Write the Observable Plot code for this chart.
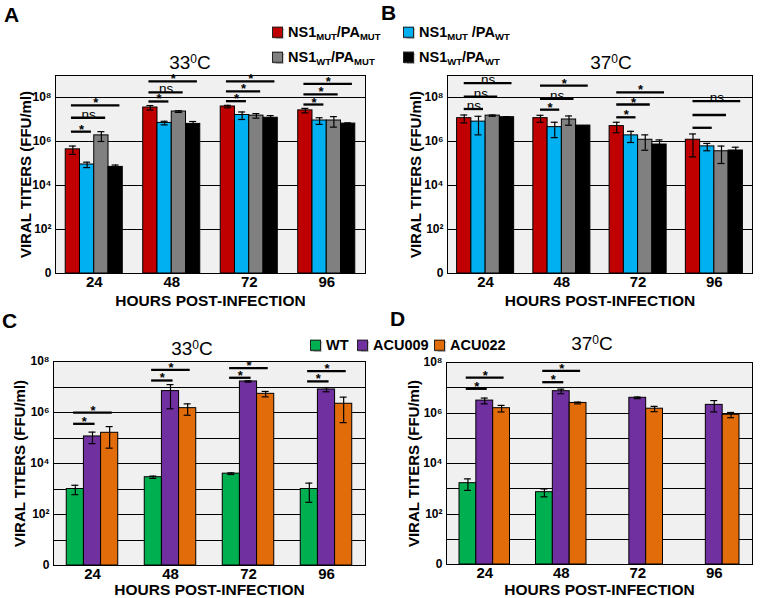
<!DOCTYPE html>
<html><head><meta charset="utf-8">
<script src="https://cdn.jsdelivr.net/npm/d3@7"></script>
<script src="https://cdn.jsdelivr.net/npm/@observablehq/plot@0.6"></script>
<style>
body{margin:0;background:#fff;}
#root{position:relative;width:760px;height:598px;overflow:hidden;font-family:"Liberation Sans",Arial,sans-serif;color:#000;}
.abs{position:absolute;white-space:nowrap;}
.letter{font-weight:bold;font-size:21px;line-height:1}
.title{font-size:19px;line-height:1;transform:translate(-50%,-50%)}
.title sup{font-size:12px;vertical-align:0.45em;line-height:0}
.leg{font-weight:bold;font-size:14.5px;line-height:1;transform:translateY(-50%);display:flex;align-items:center}
.legcd{font-size:14.5px}
.sw{display:inline-block;width:9px;height:9px;border:1px solid #222;margin-right:5px;box-shadow:1px 1px 1px rgba(0,0,0,.35)}
.leg sub{font-size:9.5px;vertical-align:-0.3em;line-height:0}
</style></head><body><div id="root"></div>
<script>
// ---------- categories ----------
const hours = [24, 48, 72, 96];
const seriesAB = ["NS1MUT/PAMUT", "NS1MUT/PAWT", "NS1WT/PAMUT", "NS1WT/PAWT"];
const colorsAB = ["#c00000", "#00b0f0", "#808080", "#000000"];
const seriesCD = ["WT", "ACU009", "ACU022"];
const colorsCD = ["#00b050", "#7030a0", "#e36c0a"];

// ---------- panel A (33 C) : mean titers and SD, by hour ----------
const aMutMut = [4.4e5, 3.5e7, 3.9e7, 2.6e7];
const aMutMutSd = [1.8e5, 8e6, 5e6, 6e6];
const aMutWt = [9e4, 7e6, 1.6e7, 9e6];
const aMutWtSd = [2.5e4, 1.3e6, 6e6, 3e6];
const aWtMut = [1.9e6, 2.3e7, 1.5e7, 9e6];
const aWtMutSd = [9e5, 2e6, 3.5e6, 4.5e6];
const aWtWt = [7e4, 6.3e6, 1.2e7, 6.5e6];
const aWtWtSd = [1.5e4, 1.8e6, 3e6, 5e5];

// ---------- panel B (37 C) ----------
const bMutMut = [1.15e7, 1.15e7, 5e6, 1.2e6];
const bMutMutSd = [4.5e6, 4e6, 2.5e6, 1e6];
const bMutWt = [8e6, 4.5e6, 1.9e6, 6e5];
const bMutWtSd = [6e6, 3e6, 1e6, 2.2e5];
const bWtMut = [1.5e7, 1e7, 1.2e6, 3.6e5];
const bWtMutSd = [1e6, 4.5e6, 8e5, 2.6e5];
const bWtWt = [1.27e7, 5.3e6, 7.3e5, 3.9e5];
const bWtWtSd = [8e5, 0, 4.5e5, 1.6e5];

// ---------- panel C (33 C) ----------
const cWT = [1e3, 2.9e3, 4e3, 1e3];
const cWTSd = [4e2, 3e2, 3e2, 7e2];
const cACU009 = [1.15e5, 6.9e6, 1.65e7, 8e6];
const cACU009Sd = [5.5e4, 5.5e6, 1e6, 1.5e6];
const cACU022 = [1.6e5, 1.48e6, 5.4e6, 2.2e6];
const cACU022Sd = [1.2e5, 7e5, 1.3e6, 1.8e6];

// ---------- panel D (37 C) ----------
const dWT = [1.66e3, 7.3e2, null, null];
const dWTSd = [8e2, 2.5e2, null, null];
const dACU009 = [3.1e6, 7.3e6, 4e6, 2.1e6];
const dACU009Sd = [8e5, 1.5e6, 3e5, 1e6];
const dACU022 = [1.55e6, 2.5e6, 1.48e6, 8.5e5];
const dACU022Sd = [4.5e5, 2e5, 3.5e5, 2e5];

// ---------- significance brackets (from first series to "to") ----------
const aBrackets = [
  {hour:24,to:1,y:2.8e6,label:"*"},{hour:24,to:2,y:1.2e7,label:"ns"},{hour:24,to:3,y:4.4e7,label:"*"},
  {hour:48,to:1,y:6.6e7,label:"*"},{hour:48,to:2,y:1.7e8,label:"ns"},{hour:48,to:3,y:5.4e8,label:"*"},
  {hour:72,to:1,y:6.8e7,label:"*"},{hour:72,to:2,y:1.9e8,label:"*"},{hour:72,to:3,y:5.4e8,label:"*"},
  {hour:96,to:1,y:4.8e7,label:"*"},{hour:96,to:2,y:1.4e8,label:"*"},{hour:96,to:3,y:4.2e8,label:"*"}
];
const bBrackets = [
  {hour:24,to:1,y:3e7,label:"ns"},{hour:24,to:2,y:1.1e8,label:"ns"},{hour:24,to:3,y:4.5e8,label:"ns"},
  {hour:48,to:1,y:2.8e7,label:"*"},{hour:48,to:2,y:8.7e7,label:"ns"},{hour:48,to:3,y:3.5e8,label:"*"},
  {hour:72,to:1,y:1.26e7,label:"*"},{hour:72,to:2,y:4.8e7,label:"*"},{hour:72,to:3,y:1.7e8,label:"*"},
  {hour:96,to:1,y:4.2e6,label:""},{hour:96,to:2,y:1.6e7,label:""},{hour:96,to:3,y:6.8e7,label:"ns"}
];
const cBrackets = [
  {hour:24,to:1,y:3.6e5,label:"*"},{hour:24,to:2,y:9.8e5,label:"*"},
  {hour:48,to:1,y:1.8e7,label:"*"},{hour:48,to:2,y:4.7e7,label:"*"},
  {hour:72,to:1,y:2.3e7,label:"*"},{hour:72,to:2,y:5.5e7,label:"*"},
  {hour:96,to:1,y:1.66e7,label:"*"},{hour:96,to:2,y:4.2e7,label:"*"}
];
const dBrackets = [
  {hour:24,to:1,y:9.1e6,label:"*"},{hour:24,to:2,y:2.5e7,label:"*"},
  {hour:48,to:1,y:1.66e7,label:"*"},{hour:48,to:2,y:4.7e7,label:"*"}
];

// ---------- axis ticks ----------
const yTicksAB = [1, 1e2, 1e4, 1e6, 1e8];
const gridAB = [1e2, 1e4, 1e6, 1e8];
const yTicksCD = [1, 1e2, 1e4, 1e6, 1e8];
const gridCD = [1e1, 1e2, 1e3, 1e4, 1e5, 1e6, 1e7];
const xLabel = "HOURS POST-INFECTION";
const yLabel = "VIRAL TITERS (FFU/ml)";

const supDigits = {"0":"⁰","1":"¹","2":"²","3":"³","4":"⁴","5":"⁵","6":"⁶","7":"⁷","8":"⁸","9":"⁹"};
const fmtY = d => d === 1 ? "0" : "10" + String(Math.round(Math.log10(d))).split("").map(c => supDigits[c]).join("");

function panel(o) {
  const n = o.series.length;
  const rows = [];
  o.series.forEach((s, k) => hours.forEach((h, i) => {
    const v = o.values[k][i];
    if (v == null) return;
    rows.push({i, k, s, v, sd: o.sds[k][i]});
  }));
  const bw = o.barW;
  const cx = d => d.i + 0.5 + (d.k - (n - 1) / 2) * bw;
  const plotW = o.width - o.marginLeft - o.marginRight;
  const cap = 3.5 / (plotW / 4);
  const withErr = rows.filter(d => d.sd);
  const br = o.brackets.map(d => {
    const i = hours.indexOf(d.hour);
    const x1 = i + 0.5 + (0 - (n - 1) / 2 + o.startOff) * bw;
    const x2 = i + 0.5 + (d.to - (n - 1) / 2 + o.endOff) * bw;
    return {...d, x1, x2, xm: (x1 + x2) / 2};
  });
  return Plot.plot({
    width: o.width, height: o.height,
    marginLeft: o.marginLeft, marginRight: o.marginRight, marginTop: o.marginTop, marginBottom: o.marginBottom,
    style: {fontFamily: "Liberation Sans, Arial, sans-serif", fontWeight: "bold", background: "transparent", overflow: "visible"},
    x: {type: "linear", domain: [0, 4], axis: null},
    y: {type: "log", domain: [1, o.yMax], axis: null},
    color: {domain: o.series, range: o.colors},
    marks: [
      Plot.frame({fill: "#f0f0f0", stroke: null}),
      Plot.gridY(o.grid, {stroke: "#000", strokeOpacity: 1, strokeWidth: 1, shapeRendering: "crispEdges"}),
      Plot.rectY(rows, {x1: d => cx(d) - bw / 2, x2: d => cx(d) + bw / 2, y1: 1, y2: "v", fill: "s", stroke: "#000", strokeWidth: 1}),
      Plot.ruleX(withErr, {x: cx, y1: d => Math.max(d.v - d.sd, 1), y2: d => d.v + d.sd, stroke: "#000", strokeWidth: 1.2}),
      Plot.ruleY(withErr, {y: d => d.v + d.sd, x1: d => cx(d) - cap, x2: d => cx(d) + cap, stroke: "#000", strokeWidth: 1.2}),
      Plot.ruleY(withErr.filter(d => d.v - d.sd > 1), {y: d => d.v - d.sd, x1: d => cx(d) - cap, x2: d => cx(d) + cap, stroke: "#000", strokeWidth: 1.2}),
      Plot.frame({stroke: "#000", strokeWidth: 1, shapeRendering: "crispEdges"}),
      Plot.ruleY(br, {y: "y", x1: "x1", x2: "x2", stroke: "#000", strokeWidth: 2.3}),
      Plot.text(br.filter(d => d.label === "ns"), {x: "xm", y: "y", text: "label", lineAnchor: "bottom", dy: 1, fontSize: 13.5, fontWeight: "normal"}),
      Plot.text(br.filter(d => d.label === "*"), {x: "xm", y: "y", text: "label", lineAnchor: "bottom", dy: 2, fontSize: 13, fontWeight: "bold"}),
      Plot.axisX({ticks: [0.5, 1.5, 2.5, 3.5], tickFormat: t => String(hours[Math.floor(t)]), tickSize: 0, tickPadding: 3, fontSize: 15, label: null}),
      Plot.axisY({ticks: o.yTicks, tickFormat: fmtY, tickSize: 0, tickPadding: 4, fontSize: 12, label: null}),
      Plot.text([xLabel], {frameAnchor: "bottom", dy: o.xlabelDy, lineAnchor: "top", fontSize: 15.5, fontWeight: "bold"}),
      Plot.text([yLabel], {frameAnchor: "left", dx: o.ylabelDx, rotate: -90, textAnchor: "middle", lineAnchor: "middle", fontSize: 15, fontWeight: "bold"})
    ]
  });
}

const root = document.getElementById("root");
function place(el, left, top) {
  el.style.position = "absolute"; el.style.left = left + "px"; el.style.top = top + "px";
  root.appendChild(el);
}

place(panel({values: [aMutMut, aMutWt, aWtMut, aWtWt], sds: [aMutMutSd, aMutWtSd, aWtMutSd, aWtWtSd],
  series: seriesAB, colors: colorsAB, brackets: aBrackets, yMax: 1e9, grid: gridAB, yTicks: yTicksAB,
  barW: 0.184, startOff: -0.1, endOff: 0.3,
  width: 380, height: 250, marginLeft: 55, marginRight: 15, marginTop: 15, marginBottom: 37, ylabelDx: -29, xlabelDy: 21}), 0, 60);
place(panel({values: [bMutMut, bMutWt, bWtMut, bWtWt], sds: [bMutMutSd, bMutWtSd, bWtMutSd, bWtWtSd],
  series: seriesAB, colors: colorsAB, brackets: bBrackets, yMax: 1e9, grid: gridAB, yTicks: yTicksAB,
  barW: 0.187, startOff: 0, endOff: 0.35,
  width: 380, height: 250, marginLeft: 67, marginRight: 8, marginTop: 15, marginBottom: 37, ylabelDx: -31, xlabelDy: 21}), 380, 60);
place(panel({values: [cWT, cACU009, cACU022], sds: [cWTSd, cACU009Sd, cACU022Sd],
  series: seriesCD, colors: colorsCD, brackets: cBrackets, yMax: 1e8, grid: gridCD, yTicks: yTicksCD,
  barW: 0.22, startOff: -0.1, endOff: 0.15,
  width: 380, height: 258, marginLeft: 53, marginRight: 15, marginTop: 21, marginBottom: 33, ylabelDx: -33, xlabelDy: 18.5}), 0, 340);
place(panel({values: [dWT, dACU009, dACU022], sds: [dWTSd, dACU009Sd, dACU022Sd],
  series: seriesCD, colors: colorsCD, brackets: dBrackets, yMax: 1e8, grid: gridCD, yTicks: yTicksCD,
  barW: 0.22, startOff: -0.1, endOff: 0.15,
  width: 380, height: 258, marginLeft: 66, marginRight: 8, marginTop: 22, marginBottom: 34, ylabelDx: -32, xlabelDy: 19}), 380, 340);

// ---------- HTML text: panel letters, titles, legends ----------
function html(cls, inner, left, top) {
  const d = document.createElement("div");
  d.className = "abs " + cls; d.innerHTML = inner;
  d.style.left = left + "px"; d.style.top = top + "px";
  root.appendChild(d); return d;
}
html("letter", "A", 4, 4);
html("letter", "B", 381, 2);
html("letter", "C", 2, 310);
html("letter", "D", 390, 308);
html("title", "33<sup>0</sup>C", 190, 62);
html("title", "37<sup>0</sup>C", 611, 62);
html("title", "33<sup>0</sup>C", 192, 348);
html("title", "37<sup>0</sup>C", 592, 343);

const legAB = [
  ["NS1<sub>MUT</sub>/PA<sub>MUT</sub>", 272, 32],
  ["NS1<sub>MUT</sub> /PA<sub>WT</sub>", 403, 32],
  ["NS1<sub>WT</sub>/PA<sub>MUT</sub>", 272, 57],
  ["NS1<sub>WT</sub>/PA<sub>WT</sub>", 403, 57]
];
legAB.forEach(([t, x, y], k) => {
  html("leg", `<span class="sw" style="background:${colorsAB[k]}"></span><span>${t}</span>`, x, y);
});
const legCD = [["WT", 310, 345], ["ACU009", 357, 345], ["ACU022", 434, 345]];
legCD.forEach(([t, x, y], k) => {
  html("leg legcd", `<span class="sw" style="background:${colorsCD[k]}"></span><span>${t}</span>`, x, y);
});
</script></body></html>
